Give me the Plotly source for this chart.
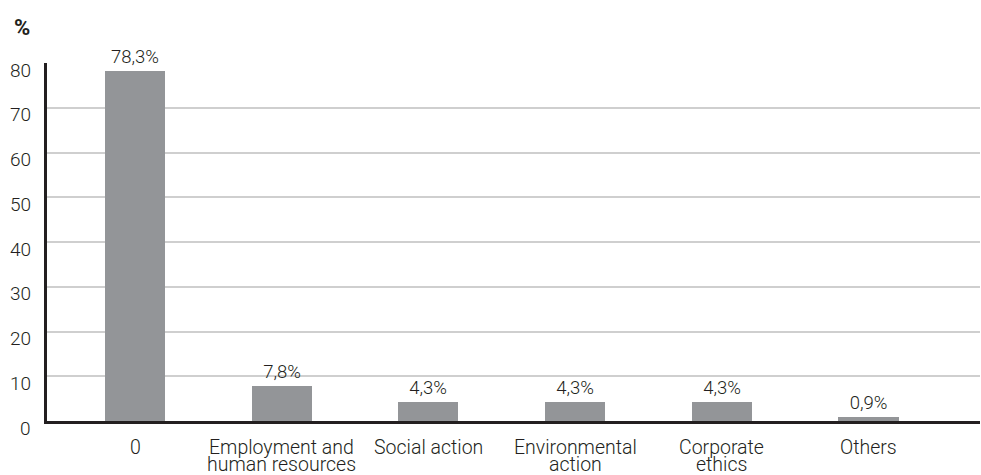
import plotly.graph_objects as go

categories = ["0", "Employment and\nhuman resources", "Social action",
              "Environmental\naction", "Corporate\nethics", "Others"]
values = [78.3, 7.8, 4.3, 4.3, 4.3, 0.9]
y_ticks = [0, 10, 20, 30, 40, 50, 60, 70, 80]
y_title = "%"

TEXT = "#231f20"
FONT = "Roboto"

labels = [f"{v:.1f}".replace(".", ",") + "%" for v in values]
xs = list(range(len(categories)))

fig = go.Figure()
fig.add_trace(go.Bar(
    x=xs, y=values, text=labels, textposition="outside",
    textfont=dict(family=FONT, size=18.5, color=TEXT, weight=300),
    marker=dict(color="#939598", line=dict(width=0)),
    width=0.41, cliponaxis=False,
))

annotations = []
for v in y_ticks:
    annotations.append(dict(
        x=0, xref="paper", y=v, yref="y", text=str(v), showarrow=False,
        xanchor="right", yanchor="middle", xshift=-14, yshift=-7,
        font=dict(family=FONT, size=19, color=TEXT, weight=300)))
for i, c in enumerate(categories):
    for j, line in enumerate(c.split("\n")):
        annotations.append(dict(
            x=i, xref="x", y=0, yref="y", text=line, showarrow=False,
            xanchor="center", yanchor="top", yshift=-14 - 17 * j,
            borderpad=0,
            font=dict(family=FONT, size=19.5, color=TEXT, weight=300)))
annotations.append(dict(
    x=0, xref="paper", y=1, yref="paper", text="<b>" + y_title + "</b>",
    showarrow=False, xanchor="right", yanchor="bottom", xshift=-15, yshift=21,
    font=dict(family=FONT, size=22, color=TEXT)))

fig.update_layout(
    width=981, height=475,
    margin=dict(l=47, r=1, t=63, b=54),
    paper_bgcolor="white", plot_bgcolor="white",
    showlegend=False, bargap=0,
    annotations=annotations,
    xaxis=dict(range=[-0.6, 5.76], showticklabels=False, showgrid=False,
               zeroline=False, showline=True, linecolor=TEXT, linewidth=3,
               ticks=""),
    yaxis=dict(range=[0, 80], tickvals=y_ticks, showticklabels=False,
               showgrid=True, gridcolor="#cfcfcf", gridwidth=1.5,
               zeroline=False, showline=True, linecolor=TEXT, linewidth=3,
               ticks=""),
)

fig.write_html("out.html")
